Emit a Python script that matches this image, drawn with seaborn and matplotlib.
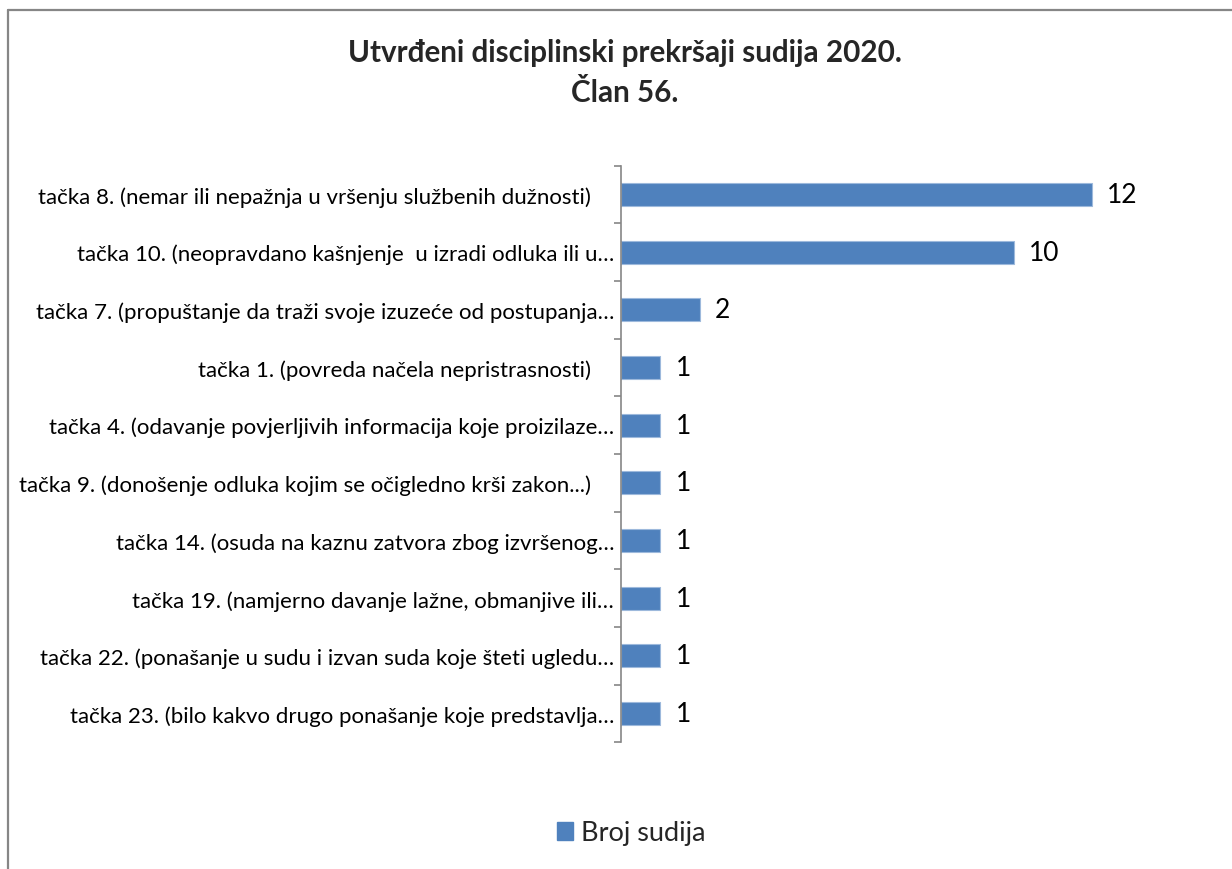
import matplotlib
matplotlib.use("Agg")
import matplotlib.pyplot as plt
from matplotlib.lines import Line2D
from matplotlib.patches import Patch
import seaborn as sns
import pandas as pd

# ---- data ----
categories = [
    "tačka 8. (nemar ili nepažnja u vršenju službenih dužnosti) ",
    "tačka 10. (neopravdano kašnjenje  u izradi odluka ili u…",
    "tačka 7. (propuštanje da traži svoje izuzeće od postupanja…",
    "tačka 1. (povreda načela nepristrasnosti) ",
    "tačka 4. (odavanje povjerljivih informacija koje proizilaze…",
    "tačka 9. (donošenje odluka kojim se očigledno krši zakon...) ",
    "tačka 14. (osuda na kaznu zatvora zbog izvršenog…",
    "tačka 19. (namjerno davanje lažne, obmanjive ili…",
    "tačka 22. (ponašanje u sudu i izvan suda koje šteti ugledu…",
    "tačka 23. (bilo kakvo drugo ponašanje koje predstavlja…",
]
values = [12, 10, 2, 1, 1, 1, 1, 1, 1, 1]
series_name = "Broj sudija"
title_lines = ["Utvrđeni disciplinski prekršaji sudija 2020.", "Član 56."]

df = pd.DataFrame({"kategorija": categories, "broj": values})

sns.set_style("white")
plt.rcParams["font.family"] = ["Lato", "DejaVu Sans"]

BAR = "#4F81BD"
GRAY = "#868686"

W, H = 1232, 870
fig = plt.figure(figsize=(W / 100, H / 100), dpi=100)
ax_left, ax_top, ax_bottom = 621, 166.5, 743.5
px_per_unit = 39.25
xmax = 14
ax = fig.add_axes([ax_left / W, 1 - ax_bottom / H,
                   xmax * px_per_unit / W, (ax_bottom - ax_top) / H])

sns.barplot(data=df, x="broj", y="kategorija", orient="h", color=BAR,
            saturation=1, width=0.4, ax=ax, edgecolor="#9DB9DC", linewidth=0.8)

ax.set_xlim(0, xmax)
ax.set_ylim(len(categories) - 0.5, -0.5)
ax.set_xlabel("")
ax.set_ylabel("")
ax.set_xticks([])
for s in ["top", "right", "bottom"]:
    ax.spines[s].set_visible(False)
ax.spines["left"].set_color(GRAY)
ax.spines["left"].set_linewidth(1.2)

ax.set_yticks(range(len(categories)))
ax.set_yticklabels(categories)
ax.tick_params(axis="y", which="major", left=True, length=0, pad=5, labelsize=16,
               labelcolor="black")
ax.set_yticks([i - 0.5 for i in range(len(categories) + 1)], minor=True)
ax.tick_params(axis="y", which="minor", left=True, length=5, width=1.2, color=GRAY,
               direction="out")

# labels that end with a space sit a little further from the axis (as in the source)
for tick, lab in zip(ax.yaxis.get_major_ticks(), categories):
    if lab.endswith(" "):
        tick.set_pad(17.5)

for cont in ax.containers:
    ax.bar_label(cont, labels=[str(v) for v in values], padding=11,
                 fontsize=19, color="black")

fig.text(625 / W, 1 - 53 / H, title_lines[0], ha="center", va="center",
         fontsize=21.3, fontweight="bold")
fig.text(625 / W, 1 - 93 / H, title_lines[1], ha="center", va="center",
         fontsize=21.3, fontweight="bold")

handle = Patch(facecolor=BAR, edgecolor=BAR)
fig.legend([handle], [series_name], loc="center", bbox_to_anchor=(631 / W, 1 - 834 / H),
           frameon=False, fontsize=19.5, handlelength=0.6, handleheight=0.6,
           handletextpad=0.3, borderaxespad=0)

fig.add_artist(Line2D([7.5 / W, 7.5 / W], [0, 1 - 10.5 / H], transform=fig.transFigure,
                      color=GRAY, lw=1.6))
fig.add_artist(Line2D([7.5 / W, 1], [1 - 10.5 / H, 1 - 10.5 / H], transform=fig.transFigure,
                      color=GRAY, lw=1.6))

fig.savefig("out.png", dpi=100, facecolor="white")
